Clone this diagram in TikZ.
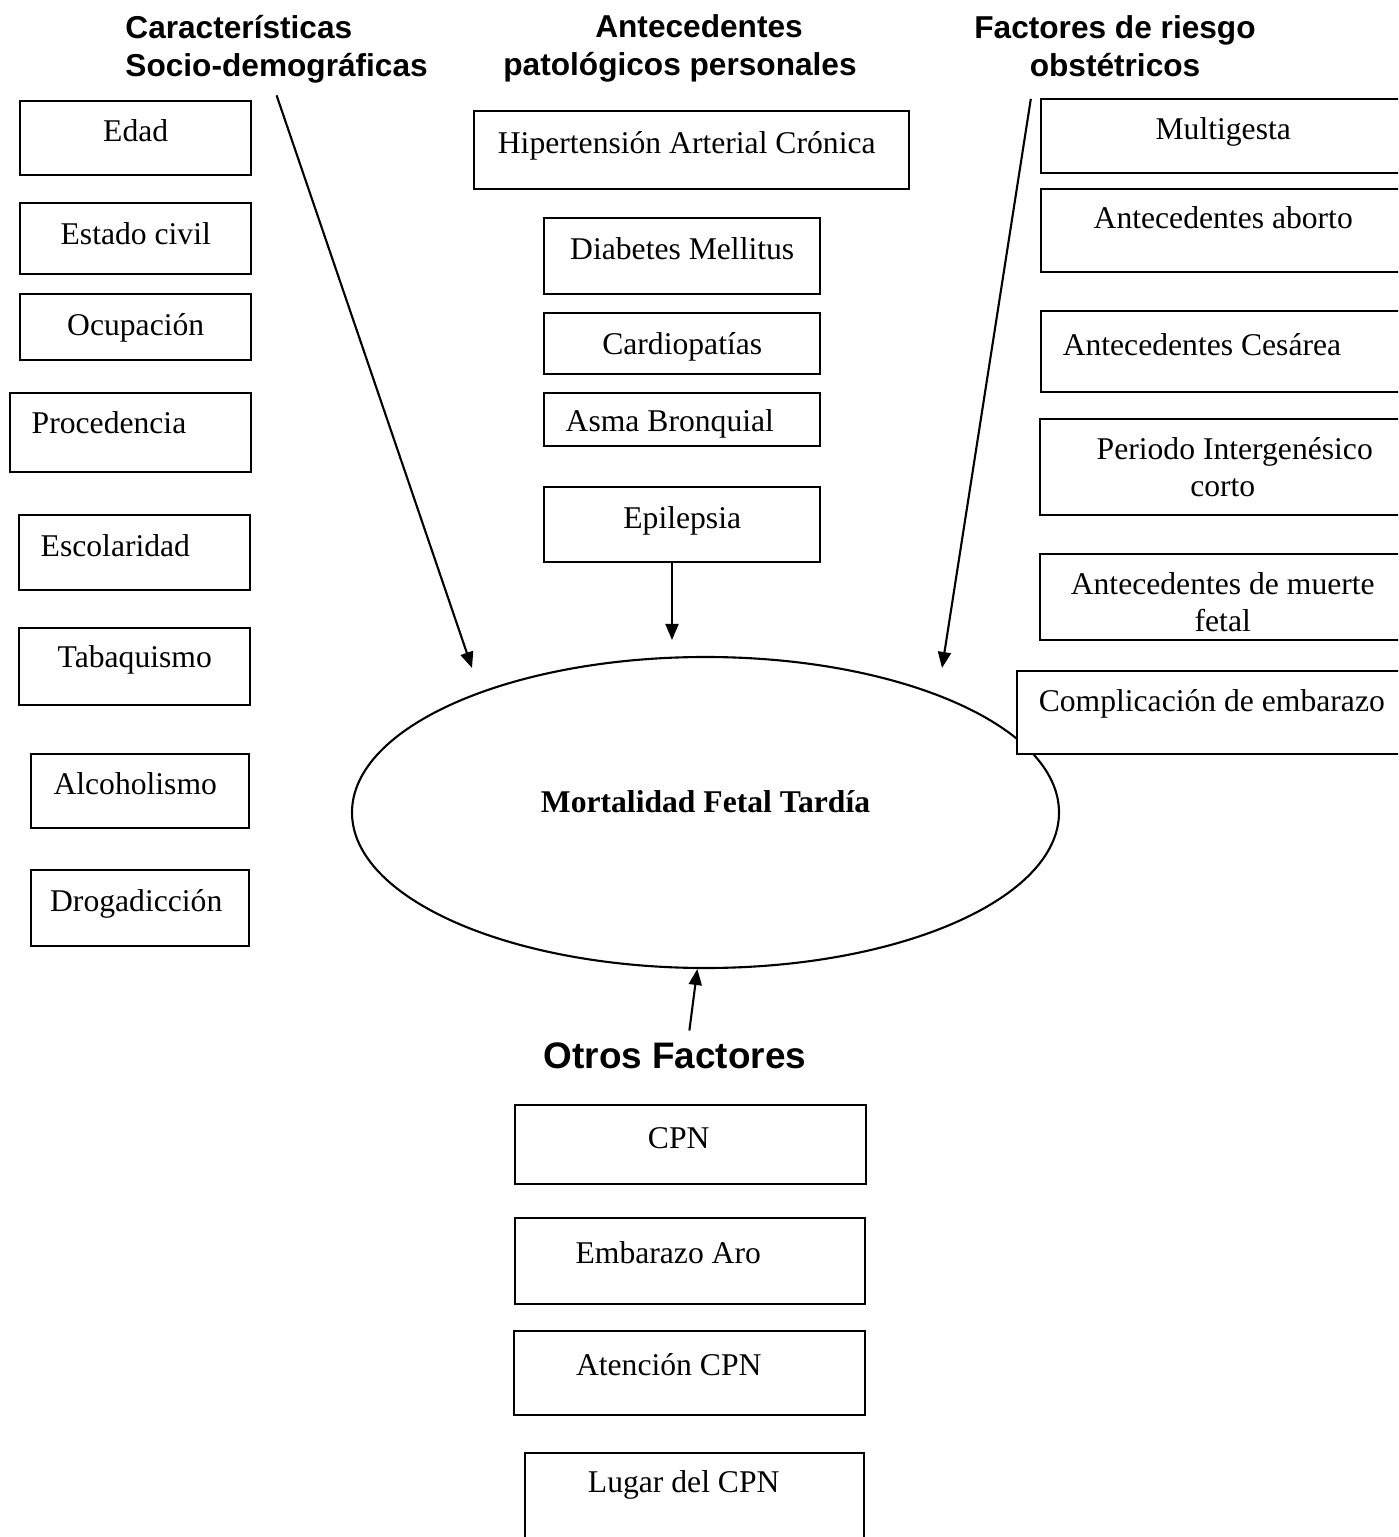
\documentclass[tikz,border=0pt]{standalone}
\usepackage{fontspec}
\setmainfont{Liberation Serif}
\setsansfont{Liberation Sans}
\usetikzlibrary{arrows.meta,shapes.geometric,calc}

\tikzset{
  box/.style={draw, line width=0.7pt, fill=white, rectangle, anchor=north west, inner sep=0pt,
    align=center, text height=8pt, text depth=6pt, font=\fontsize{9}{10.5}\selectfont},
  lbox/.style={box, align=flush left, inner xsep=0.215cm},
  tbox/.style={draw, line width=0.7pt, fill=white, rectangle, anchor=north west, inner sep=0pt,
    align=center, font=\fontsize{9}{10.5}\selectfont},
  head/.style={font=\sffamily\bfseries\fontsize{9}{10.8}\selectfont},
  arr/.style={line width=0.6pt, -{Triangle[length=1.6mm,width=1.3mm]}},
}

\begin{document}
\begin{tikzpicture}
        % page frame
        \useasboundingbox (0,0) rectangle (13.98,-15.37);
        \clip (0,0) rectangle (13.98,-15.37);

        % Headings
        \node[head, align=left, anchor=west] (soc) at (1.13,-0.49) {Características\\Socio-demográficas};
        \node[head, align=center] (ant) at (6.80,-0.48) {\hspace*{0.38cm}Antecedentes\\patológicos personales};
        \node[head, align=center] (obst) at (11.15,-0.46) {Factores de riesgo\\obstétricos};
        \node[head, font=\sffamily\bfseries\fontsize{10.5}{12}\selectfont] (otros) at (6.75,-10.56) {Otros Factores};

        % Central ellipse
        \node[draw, ellipse, line width=0.6pt, minimum width=7.07cm, minimum height=3.11cm, inner sep=0pt,
          text height=7pt, text depth=7pt, font=\bfseries\fontsize{9}{10.8}\selectfont] (mft) at (7.055,-8.125) {Mortalidad Fetal Tardía};

        % Socio-demographic column
        \node[box, minimum width=2.31cm, minimum height=0.74cm] (edad) at (0.19,-1.00) {Edad};
        \node[box, minimum width=2.31cm, minimum height=0.71cm, text height=9.5pt] (civil) at (0.19,-2.02) {Estado civil};
        \node[box, minimum width=2.31cm, minimum height=0.66cm, text height=10.8pt] (ocup) at (0.19,-2.93) {Ocupación};
        \node[lbox, text width=1.98cm, minimum height=0.79cm, text depth=7.5pt] (proc) at (0.09,-3.92) {Procedencia};
        \node[lbox, text width=1.88cm, minimum height=0.75cm] (escol) at (0.18,-5.14) {Escolaridad};
        \node[box, minimum width=2.31cm, minimum height=0.77cm, text depth=7.5pt] (tabaq) at (0.18,-6.27) {Tabaquismo};
        \node[box, minimum width=2.18cm, minimum height=0.74cm] (alcoh) at (0.30,-7.53) {Alcoholismo\hspace*{0.1cm}};
        \node[box, minimum width=2.18cm, minimum height=0.76cm] (droga) at (0.30,-8.69) {Drogadicción\hspace*{0.08cm}};

        % Personal pathology column
        \node[box, minimum width=4.35cm, minimum height=0.78cm] (hta) at (4.73,-1.10) {Hipertensión Arterial Crónica\hspace*{0.1cm}};
        \node[box, minimum width=2.76cm, minimum height=0.76cm] (dm) at (5.43,-2.17) {Diabetes Mellitus};
        \node[box, minimum width=2.76cm, minimum height=0.61cm, text height=10pt, text depth=4pt] (cardio) at (5.43,-3.12) {Cardiopatías};
        \node[lbox, text width=2.33cm, minimum height=0.53cm, text height=10.3pt, text depth=3.7pt] (asma) at (5.43,-3.92) {Asma Bronquial};
        \node[box, minimum width=2.76cm, minimum height=0.75cm] (epi) at (5.43,-4.86) {Epilepsia};

        % Obstetric risk column (runs off the right edge)
        \node[box, minimum width=3.64cm, minimum height=0.74cm] (multi) at (10.40,-0.98) {Multigesta};
        \node[box, minimum width=3.64cm, minimum height=0.83cm, text depth=9.4pt] (aborto) at (10.40,-1.88) {Antecedentes aborto};
        \node[lbox, text width=3.21cm, minimum height=0.81cm] (cesarea) at (10.40,-3.10) {Antecedentes Cesárea};
        \node[tbox, minimum width=3.65cm, minimum height=0.96cm] (periodo) at (10.39,-4.18) {\hspace*{0.24cm}Periodo Intergenésico\\corto};
        \node[tbox, minimum width=3.65cm, minimum height=0.86cm] (muerte) at (10.39,-5.53) {\rule{0pt}{9pt}Antecedentes de muerte\\fetal};
        \node[lbox, text width=3.60cm, minimum height=0.83cm, text depth=8.8pt] (compl) at (10.16,-6.70) {Complicación de embarazo};

        % Other factors
        \node[box, minimum width=3.51cm, minimum height=0.79cm] (cpn) at (5.14,-11.04) {CPN\hspace*{0.24cm}};
        \node[box, minimum width=3.50cm, minimum height=0.86cm, text depth=7pt] (aro) at (5.14,-12.17) {Embarazo Aro\hspace*{0.44cm}};
        \node[box, minimum width=3.51cm, minimum height=0.84cm, text depth=7pt] (atencion) at (5.13,-13.30) {Atención CPN\hspace*{0.42cm}};
        \node[box, minimum width=3.39cm, minimum height=0.90cm, text depth=11pt] (lugar) at (5.24,-14.52) {Lugar del CPN\hspace*{0.22cm}};

        % Arrows
        \coordinate (socend) at (4.72,-6.68);
        \coordinate (obstend) at (9.42,-6.68);
        \coordinate (epiend) at (6.72,-6.40);
        \draw[arr] (soc.south) -- (socend);
        \draw[arr, shorten <=0.1cm] ($(obst.south west)!0.23!(obst.south east)$) -- (obstend);
        \draw[arr] (epi.south -| epiend) -- (epiend);
        \draw[arr] ($(otros.north west)!0.55!(otros.north east)$) -- (mft.-93);
\end{tikzpicture}
\end{document}
